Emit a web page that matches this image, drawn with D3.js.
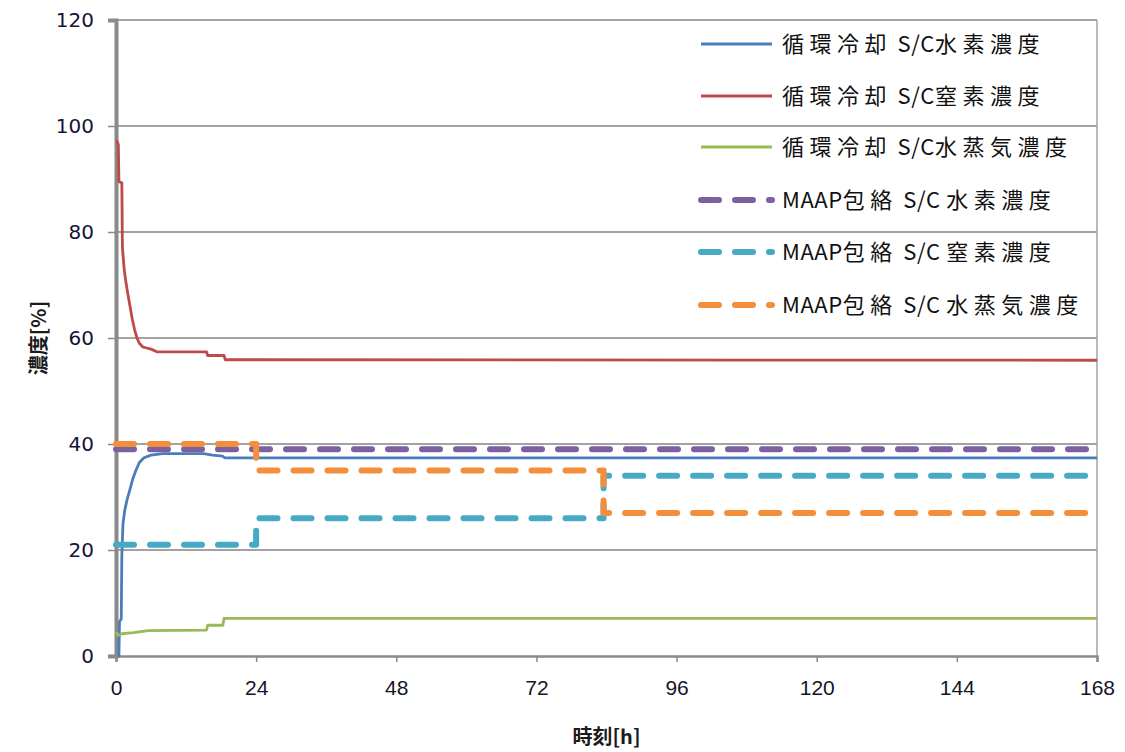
<!DOCTYPE html>
<html>
<head>
<meta charset="utf-8">
<script src="https://cdn.jsdelivr.net/npm/d3@7"></script>
<style>
  body { margin: 0; background: #fff; }
  svg { display: block; }
</style>
</head>
<body>
<svg id="chart" width="1125" height="752"></svg>
<script>
// Axis ticks
const xTicks = [0, 24, 48, 72, 96, 120, 144, 168];
const yTicks = [0, 20, 40, 60, 80, 100, 120];

// Series: [time h, concentration %]
const coolH2 = [[0.3,0],[0.5,0],[0.6,6.5],[0.9,7],[1.0,19],[1.2,25],[1.5,27.5],[1.9,29.5],[2.4,31.5],[2.9,33.5],[3.4,35],[4.0,36.5],[4.8,37.4],[6.0,37.9],[8,38.2],[15,38.2],[16.5,37.9],[18.3,37.7],[18.6,37.4],[168,37.4]];
const coolN2 = [[0.1,97.3],[0.4,96.5],[0.5,89.5],[1.0,89.3],[1.1,77],[1.4,73],[1.7,70.5],[2.0,68.5],[2.4,66],[2.8,63.5],[3.2,61.5],[3.6,60],[4.0,59],[4.6,58.3],[6.0,57.9],[7.0,57.4],[15.5,57.4],[15.7,56.7],[18.5,56.7],[18.7,55.9],[168,55.8]];
const coolSteam = [[0,4.6],[0.3,3.9],[1.0,4.2],[3,4.4],[5.5,4.8],[15.5,4.9],[15.7,5.8],[18.3,5.8],[18.5,7.1],[168,7.1]];
const maapH2 = [[0,39],[168,39]];
const maapN2 = [[0,21],[24,21],[24,26],[83.5,26],[83.5,34],[168,34]];
const maapSteam = [[0,40],[24,40],[24,35],[83.5,35],[83.5,27],[168,27]];

const seriesNames = [
  "循環冷却 S/C水素濃度",
  "循環冷却 S/C窒素濃度",
  "循環冷却 S/C水蒸気濃度",
  "MAAP包絡 S/C 水素濃度",
  "MAAP包絡 S/C 窒素濃度",
  "MAAP包絡 S/C 水蒸気濃度"
];
const seriesColors = ["#4A7EBB", "#BE4B48", "#98B954", "#7D60A0", "#46AAC5", "#F38E3C"];
const seriesData = [coolH2, coolN2, coolSteam, maapH2, maapN2, maapSteam];
const seriesDashed = [false, false, false, true, true, true];

const svg = d3.select("#chart");
const W = 1125, H = 752;
const m = { left: 116, right: 28, top: 20, bottom: 96 };
const x = d3.scaleLinear().domain([0, 168]).range([m.left, W - m.right]);
const y = d3.scaleLinear().domain([0, 120]).range([H - m.bottom, m.top]);

svg.append("rect").attr("width", W).attr("height", H).attr("fill", "#fff");

// Horizontal gridlines
svg.append("g").selectAll("line").data(yTicks.filter(d => d > 0)).join("line")
  .attr("x1", x(0)).attr("x2", x(168))
  .attr("y1", d => y(d)).attr("y2", d => y(d))
  .attr("stroke", "#a3a3a3").attr("stroke-width", 2);

// Right frame edge
svg.append("line")
  .attr("x1", x(168)).attr("x2", x(168))
  .attr("y1", y(120)).attr("y2", y(0))
  .attr("stroke", "#a3a3a3").attr("stroke-width", 1.5);

// X axis
const xAxis = svg.append("g").attr("transform", `translate(0,${y(0)})`)
  .call(d3.axisBottom(x).tickValues(xTicks).tickSize(6).tickPadding(18).tickFormat(d3.format("d")));
xAxis.select(".domain").attr("stroke", "#8a8a8a").attr("stroke-width", 2.5);
xAxis.selectAll(".tick line").attr("stroke", "#8a8a8a").attr("stroke-width", 1.5);
xAxis.selectAll(".tick text")
  .attr("fill", "#151528")
  .style("font-family", "'Liberation Sans Narrow', 'Liberation Sans', sans-serif")
  .style("font-size", "21px");

// Y axis
const yAxis = svg.append("g").attr("transform", `translate(${x(0)},0)`)
  .call(d3.axisLeft(y).tickValues(yTicks).tickSize(8).tickPadding(14).tickFormat(d3.format("d")));
yAxis.select(".domain").attr("stroke", "#8a8a8a").attr("stroke-width", 4);
yAxis.selectAll(".tick line").attr("stroke", "#8a8a8a").attr("stroke-width", 1.5);
yAxis.selectAll(".tick text")
  .attr("fill", "#141436")
  .style("font-family", "'DejaVu Sans', sans-serif")
  .style("font-size", "20px");

// Axis titles
svg.append("text")
  .attr("x", (x(0) + x(168)) / 2).attr("y", 744)
  .attr("text-anchor", "middle")
  .style("font-family", "'Noto Sans CJK JP', sans-serif")
  .style("font-size", "20px").style("font-weight", "bold")
  .attr("fill", "#1b1b1b")
  .text("時刻[h]");

svg.append("text")
  .attr("transform", `translate(46,${(y(0) + y(120)) / 2}) rotate(-90)`)
  .attr("text-anchor", "middle")
  .style("font-family", "'Noto Sans CJK JP', sans-serif")
  .style("font-size", "20px").style("font-weight", "bold")
  .attr("fill", "#1b1b1b")
  .text("濃度[%]");

// Series lines
const line = d3.line().x(d => x(d[0])).y(d => y(d[1]));
seriesData.forEach((data, i) => {
  const p = svg.append("path")
    .datum(data)
    .attr("d", line)
    .attr("fill", "none")
    .attr("stroke", seriesColors[i])
    .attr("stroke-linejoin", "round");
  if (seriesDashed[i]) {
    p.attr("stroke-width", 6).attr("stroke-dasharray", "18,16").attr("stroke-linecap", "round");
  } else {
    p.attr("stroke-width", 2.8);
  }
});

// Legend: wide-pitched kana/kanji runs, tight Latin runs
const legendY = [44, 96, 147, 200, 252, 305];
const legend = svg.append("g");
const runs = s => s.match(/[\u3000-\u9fff]+|[^\u3000-\u9fff]+/g);
seriesNames.forEach((name, i) => {
  const g = legend.append("g").attr("transform", `translate(0,${legendY[i]})`);
  const l = g.append("line")
    .attr("x1", 701).attr("x2", 772).attr("y1", 0).attr("y2", 0)
    .attr("stroke", seriesColors[i]);
  if (seriesDashed[i]) {
    l.attr("stroke-width", 6).attr("stroke-dasharray", "18,16").attr("stroke-linecap", "round");
  } else {
    l.attr("stroke-width", 2.8);
  }
  const t = g.append("text")
    .attr("x", 782).attr("y", 8)
    .style("font-family", "'Noto Sans CJK JP', sans-serif")
    .style("font-size", "22px")
    .attr("fill", "#111");
  runs(name).forEach(r => {
    const cjk = /[\u3000-\u9fff]/.test(r);
    t.append("tspan")
      .style("letter-spacing", cjk ? "5.5px" : "0.6px")
      .text(r);
  });
});
</script>
</body>
</html>
